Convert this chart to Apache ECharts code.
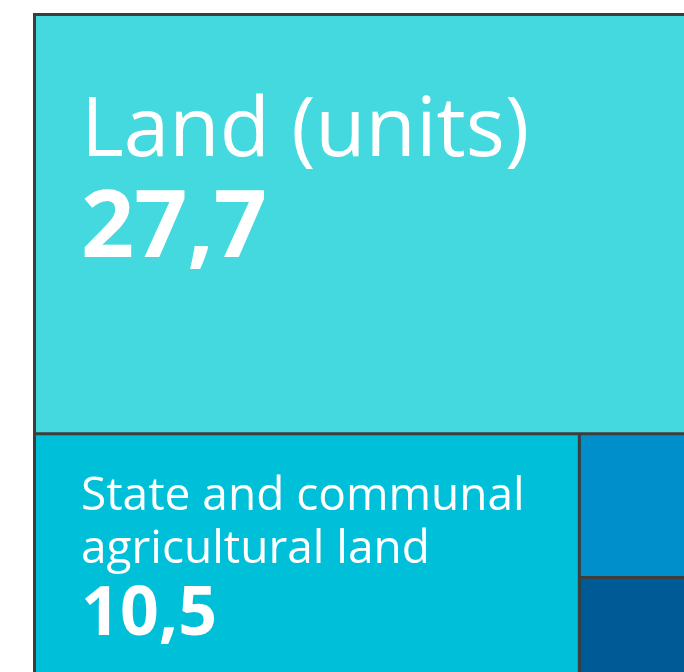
<!DOCTYPE html>
<html>
<head>
<meta charset="utf-8">
<script src="https://cdn.jsdelivr.net/npm/echarts@6/dist/echarts.min.js"></script>
<style>
html,body{margin:0;padding:0;background:#ffffff;}
#chart{width:684px;height:672px;}
</style>
</head>
<body>
<div id="chart"></div>
<script>
// ---- data (the unlabeled cells are estimated from their areas) ----
const categories = ['Land (units)', 'State and communal\nagricultural land', '', '', ''];
const values = [27.7, 10.5, 3.3, 2.1, 0.2];
const colors = ['#43D9DE', '#00BFD8', '#008FCA', '#005A96', '#001E6E'];

// ---- styles ----
const BORDER = '#3d3d3d';
const FONT = 'Open Sans';
const labelStyles = [
  { show: true, padding: [67, 0, 0, 45], name: { fontSize: 82, lineHeight: 100 }, value: { fontSize: 93, lineHeight: 94 } },
  { show: true, padding: [35, 0, 0, 45], name: { fontSize: 46, lineHeight: 53 }, value: { fontSize: 68, lineHeight: 78 } },
  { show: false }, { show: false }, { show: false }
];

const fmt = v => v.toFixed(1).replace('.', ',');

function leaf(i) {
  const ls = labelStyles[i];
  const label = { show: ls.show };
  if (ls.show) {
    Object.assign(label, {
      position: 'insideTopLeft',
      distance: 0,
      padding: ls.padding,
      overflow: 'none',
      formatter: p => '{n|' + p.name + '}\n{v|' + fmt(p.value) + '}',
      rich: {
        n: Object.assign({ fontFamily: FONT, color: '#ffffff', fontWeight: 'normal' }, ls.name),
        v: Object.assign({ fontFamily: FONT, color: '#ffffff', fontWeight: 'bold' }, ls.value)
      }
    });
  }
  return { name: categories[i], value: values[i], itemStyle: { color: colors[i] }, label: label };
}
function nest(i) {
  return i === values.length - 2
    ? [leaf(i), leaf(i + 1)]
    : [leaf(i), { name: ' ', children: nest(i + 1), label: { show: false } }];
}

const chart = echarts.init(document.getElementById('chart'), null, { renderer: 'canvas' });
chart.setOption({
  animation: false,
  backgroundColor: '#ffffff',
  series: [{
    type: 'treemap',
    left: 33,
    top: 13,
    width: 838.4,
    height: 666,
    sort: false,
    squareRatio: 2,
    roam: false,
    nodeClick: false,
    breadcrumb: { show: false },
    itemStyle: { borderWidth: 0, gapWidth: 3, borderColor: BORDER },
    levels: [
      { itemStyle: { borderWidth: 3, gapWidth: 3, borderColor: BORDER } }
    ],
    data: nest(0)
  }]
});
</script>
</body>
</html>
